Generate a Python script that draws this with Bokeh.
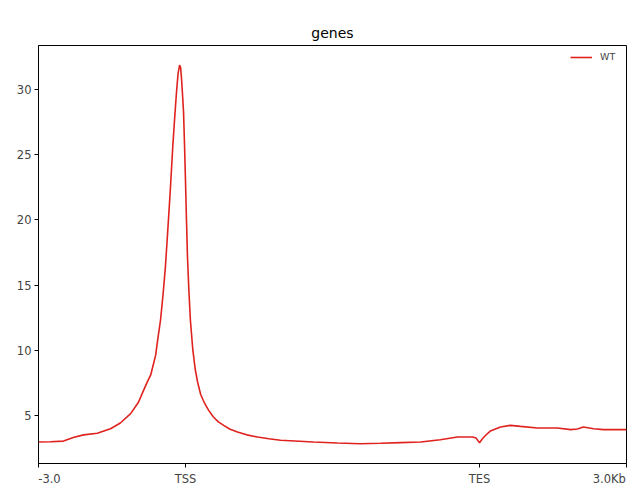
from bokeh.plotting import figure
from bokeh.models import FixedTicker, Range1d, Legend, LegendItem
from bokeh.embed import file_html
from bokeh.resources import INLINE

# Profile data (bin index: 0 = -3.0kb, 300 = TSS, 900 = TES, 1200 = +3.0kb)
bins = [0, 24, 51, 71, 92, 120, 147, 167, 188, 204, 212, 220, 229, 235, 239, 244,
        249, 254, 259, 264, 269, 274, 278, 282, 285, 288, 290, 292, 294, 296, 298,
        300, 302, 304, 307, 310, 315, 320, 325, 331, 338, 347, 357, 367, 378, 390,
        406, 425, 447, 470, 494, 561, 610, 657, 698, 739, 780, 820, 855, 886, 893,
        900, 906, 912, 922, 943, 963, 984, 1018, 1059, 1086, 1100, 1112, 1133, 1153,
        1200]
wt = [2.95, 2.97, 3.02, 3.30, 3.50, 3.62, 3.97, 4.41, 5.13, 6.00, 6.70, 7.40, 8.10,
      9.00, 9.60, 11.0, 12.3, 14.2, 16.4, 19.3, 22.3, 25.6, 27.9, 30.0, 31.3, 31.9,
      31.7, 30.8, 29.6, 28.3, 25.8, 23.0, 20.0, 17.2, 14.5, 12.3, 10.0, 8.5, 7.5,
      6.6, 6.0, 5.4, 4.87, 4.5, 4.23, 3.95, 3.72, 3.5, 3.33, 3.2, 3.08, 2.95, 2.87,
      2.82, 2.85, 2.9, 2.95, 3.13, 3.33, 3.33, 3.25, 2.9, 3.2, 3.45, 3.79, 4.1, 4.23,
      4.15, 4.03, 4.03, 3.9, 3.95, 4.1, 3.97, 3.9, 3.9]

tick_pos = [0, 300, 900, 1200]
tick_labels = ["-3.0", "TSS", "TES", "3.0Kb"]
y_ticks = [5, 10, 15, 20, 25, 30]
title_text = "genes"
series_name = "WT"

FONT = "DejaVu Sans"
RED = "#e0221f"
FS = "\u2007"   # figure space (digit width), keeps end labels aligned to the frame

p = figure(frame_width=588, frame_height=418,
           x_range=Range1d(0, 1200), y_range=Range1d(1.3, 33.4),
           output_backend="svg", toolbar_location=None, title=title_text,
           min_border_left=38, min_border_right=14, min_border_top=45,
           min_border_bottom=35)

r = p.line(bins, wt, line_color=RED, line_width=1.6)

p.title.align = "center"
p.title.text_font = FONT
p.title.text_font_size = "14px"
p.title.text_font_style = "normal"
p.title.text_color = "black"

p.grid.visible = False
p.outline_line_color = "black"
p.outline_line_width = 1
p.outline_line_alpha = 1
p.background_fill_color = "white"
p.border_fill_color = "white"

# y axis
p.yaxis.ticker = FixedTicker(ticks=y_ticks)
p.yaxis.minor_tick_line_color = None
p.yaxis.major_tick_in = 0
p.yaxis.major_tick_out = 4
p.yaxis.major_label_text_font = FONT
p.yaxis.major_label_text_font_size = "11.5px"
p.yaxis.major_label_standoff = 3
p.yaxis.axis_line_color = "black"

# x axis: first label left-aligned, last right-aligned (padding with blank glyphs)
p.xaxis.ticker = FixedTicker(ticks=tick_pos)
p.xaxis.major_label_overrides = {
    tick_pos[0]: FS * 3 + tick_labels[0],
    tick_pos[1]: tick_labels[1],
    tick_pos[2]: tick_labels[2],
    tick_pos[3]: tick_labels[3] + FS * 2,
}
p.xaxis.minor_tick_line_color = None
p.xaxis.major_tick_in = 0
p.xaxis.major_tick_out = 4
p.xaxis.major_label_text_font = FONT
p.xaxis.major_label_text_font_size = "11.5px"
p.xaxis.major_label_standoff = 4
p.xaxis.axis_line_color = "black"

legend = Legend(items=[LegendItem(label=series_name, renderers=[r])],
                location="top_right", border_line_color=None,
                background_fill_alpha=0, label_text_font=FONT,
                label_text_font_size="9.5px", glyph_width=22, glyph_height=10,
                margin=6, padding=4, label_standoff=8)
p.add_layout(legend)

open("out.html", "w").write(file_html(p, INLINE))
